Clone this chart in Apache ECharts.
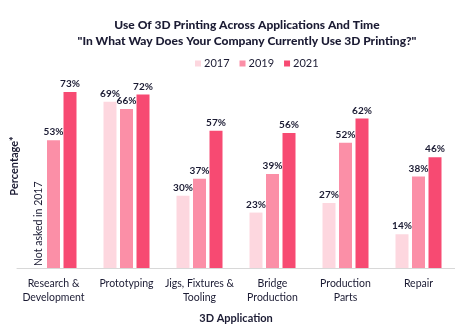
<!DOCTYPE html>
<html><head><meta charset="utf-8">
<script src="https://cdn.jsdelivr.net/npm/echarts@6/dist/echarts.min.js"></script>
<style>html,body{margin:0;padding:0;background:#fff}#c{width:455px;height:330px}</style>
</head><body><div id="c"></div>
<script>
const categories = ['Research &\nDevelopment','Prototyping','Jigs, Fixtures &\nTooling','Bridge\nProduction','Production\nParts','Repair'];
const years = ['2017','2019','2021'];
const v2017 = [null, 69, 30, 23, 27, 14];
const v2019 = [53, 66, 37, 39, 52, 38];
const v2021 = [73, 72, 57, 56, 62, 46];
const colors = ['#fdd7df','#fb8fa7','#f74a72'];
const txt = '#1b1b33';
const font = 'Lato';

const chart = echarts.init(document.getElementById('c'));
const mk = (name, data, i) => ({
  name, type:'bar', data, barWidth:13, barGap:'27%',
  itemStyle:{color:colors[i]},
  label:{show:true, position:'top', distance:3, formatter:p=>p.value==null?'':p.value+'%', color:txt, fontFamily:font, fontWeight:'bold', fontSize:10}
});
chart.setOption({
  animation:false,
  textStyle:{fontFamily:font},
  title:{text:'Use Of 3D Printing Across Applications And Time\n"In What Way Does Your Company Currently Use 3D Printing?"',
    left:242, textAlign:'center', top:12,
    textStyle:{fontFamily:font, fontWeight:900, fontSize:12, color:txt, lineHeight:16}},
  legend:{top:53, left:190, itemWidth:6, itemHeight:6, itemGap:10, icon:'rect',
    textStyle:{fontFamily:font, fontSize:11, color:txt, padding:[0,0,0,-2]}, data:years},
  grid:{left:17, right:-3, top:27, bottom:62},
  xAxis:{type:'category', data:categories,
    axisLine:{lineStyle:{color:'#d8d8d8', width:1}}, axisTick:{show:false},
    axisLabel:{color:txt, fontFamily:font, fontSize:10.5, lineHeight:14.5, margin:8, interval:0},
    name:'3D Application', nameLocation:'middle', nameGap:45,
    nameTextStyle:{fontFamily:font, fontWeight:'bold', fontSize:11, color:txt}},
  yAxis:{type:'value', min:0, max:100, show:true, axisLine:{show:false}, axisTick:{show:false},
    axisLabel:{show:false}, splitLine:{show:false}},
  series:[mk('2017',v2017,0), mk('2019',v2019,1), mk('2021',v2021,2)]
});
// "Not asked in 2017" annotation placed at the 2017 slot of the first category
const base = chart.convertToPixel({xAxisIndex:0,yAxisIndex:0},[0,0]);
chart.setOption({graphic:[
  {type:'text', x:base[0]-15, y:base[1]-2, rotation:Math.PI/2,
    style:{text:'Not asked in 2017', fontFamily:font, fontSize:10.5, fill:txt, textAlign:'left', textVerticalAlign:'middle'}},
  {type:'text', x:14, y:166, rotation:Math.PI/2,
    style:{text:'Percentage*', fontFamily:font, fontWeight:'bold', fontSize:11, fill:txt, textAlign:'center', textVerticalAlign:'middle'}}
]});
</script></body></html>
